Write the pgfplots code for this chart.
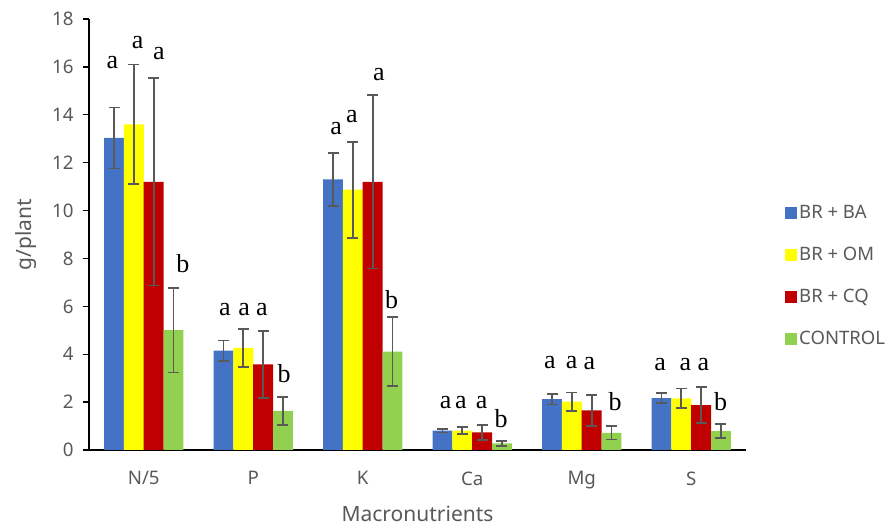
\documentclass[border=0pt]{standalone}
\usepackage{pgfplots}
\pgfplotsset{compat=1.18}
\usepackage{pgfplotstable}
\usepackage{fontspec}
\setmainfont{Noto Sans}
\newfontfamily\letfont{Liberation Serif}
\definecolor{cba}{HTML}{4472C4}
\definecolor{com}{HTML}{FFFF00}
\definecolor{ccq}{HTML}{C00000}
\definecolor{cct}{HTML}{92D050}
\definecolor{txtgray}{HTML}{595959}
\definecolor{errgray}{HTML}{595959}

\pgfplotstableread{
x y e
-0.271 13.03 1.27
0.729 4.15 0.42
1.729 11.30 1.10
2.729 0.81 0.08
3.729 2.12 0.22
4.729 2.17 0.22
}\tba
\pgfplotstableread{
x y e
-0.090 13.60 2.50
0.910 4.27 0.79
1.910 10.87 2.00
2.910 0.81 0.15
3.910 2.02 0.38
4.910 2.16 0.41
}\tom
\pgfplotstableread{
x y e
0.090 11.20 4.33
1.090 3.58 1.40
2.090 11.20 3.62
3.090 0.74 0.31
4.090 1.66 0.65
5.090 1.87 0.75
}\tcq
\pgfplotstableread{
x y e
0.271 5.01 1.77
1.271 1.63 0.58
2.271 4.11 1.45
3.271 0.28 0.11
4.271 0.72 0.28
5.271 0.79 0.30
}\tct
\pgfplotstableread{
x y t
-0.287 16.20 a
-0.055 17.00 a
0.139 16.57 a
0.358 7.80 b
0.742 5.88 a
0.916 5.88 a
1.080 5.88 a
1.281 3.20 b
1.756 13.43 a
1.900 13.92 a
2.148 15.66 a
2.264 6.27 b
2.757 1.98 a
2.897 1.98 a
3.086 1.98 a
3.263 1.32 b
3.710 3.66 a
3.908 3.66 a
4.069 3.62 a
4.304 2.02 b
4.715 3.58 a
4.946 3.58 a
5.110 3.56 a
5.269 2.02 b
}\tlet

\begin{document}
\begin{tikzpicture}
\useasboundingbox (-89pt,-79pt) rectangle (804pt,450pt);
\begin{axis}[
  at={(0pt,0pt)}, anchor=south west,
  scale only axis, width=657pt, height=431pt,
  xmin=-0.5, xmax=5.5, ymin=0, ymax=18,
  axis x line=bottom, axis y line=left,
  axis line style={-, line width=1.3pt, black},
  xtick={0,1,2,3,4,5},
  xticklabels={N/5,P,K,Ca,Mg,S},
  ytick={0,2,...,18},
  x tick style={draw=none},
  y tick style={line width=1.3pt, black},
  tick align=outside, major tick length=6pt,
  /pgf/number format/assume math mode=true,
  tick label style={font=\fontsize{18.7}{22}\selectfont, text=txtgray},
  yticklabel style={xshift=-6pt},
  xticklabel style={yshift=-12pt},
  xlabel={Macronutrients}, ylabel={g/plant},
  label style={font=\fontsize{21}{25}\selectfont, text=txtgray},
  xlabel style={at={(axis description cs:0.5,-0.148)}, anchor=center},
  ylabel style={at={(axis description cs:-0.0959,0.5)}, anchor=center},
  legend style={at={(axis description cs:1.0594,0.404)}, anchor=west,
    draw=none, fill=none, inner sep=0pt, row sep=23pt,
    font=\fontsize{18.5}{22}\selectfont, text=txtgray},
  legend cell align=left,
  legend image code/.code={\fill[#1,draw=none] (0pt,-6pt) rectangle (12pt,6pt);},
  error bars/error bar style={line width=1.8pt, color=errgray},
  error bars/error mark options={rotate=90, mark size=5.5pt, line width=1.8pt, color=errgray},
]
\addplot[ybar, bar width=0.181, bar shift=0pt, fill=cba, draw=none,
  error bars/.cd, y dir=both, y explicit] table[x=x, y=y, y error=e] {\tba};
\addlegendentry{BR + BA}
\addplot[ybar, bar width=0.181, bar shift=0pt, fill=com, draw=none,
  error bars/.cd, y dir=both, y explicit] table[x=x, y=y, y error=e] {\tom};
\addlegendentry{BR + OM}
\addplot[ybar, bar width=0.181, bar shift=0pt, fill=ccq, draw=none,
  error bars/.cd, y dir=both, y explicit] table[x=x, y=y, y error=e] {\tcq};
\addlegendentry{BR + CQ}
\addplot[ybar, bar width=0.181, bar shift=0pt, fill=cct, draw=none,
  error bars/.cd, y dir=both, y explicit] table[x=x, y=y, y error=e] {\tct};
\addlegendentry{CONTROL}
\addplot[only marks, mark=none, forget plot, nodes near coords,
  point meta=explicit symbolic,
  nodes near coords style={anchor=center, font=\letfont\fontsize{26}{29}\selectfont, text=black}]
  table[x=x, y=y, meta=t] {\tlet};
\end{axis}
\end{tikzpicture}
\end{document}
